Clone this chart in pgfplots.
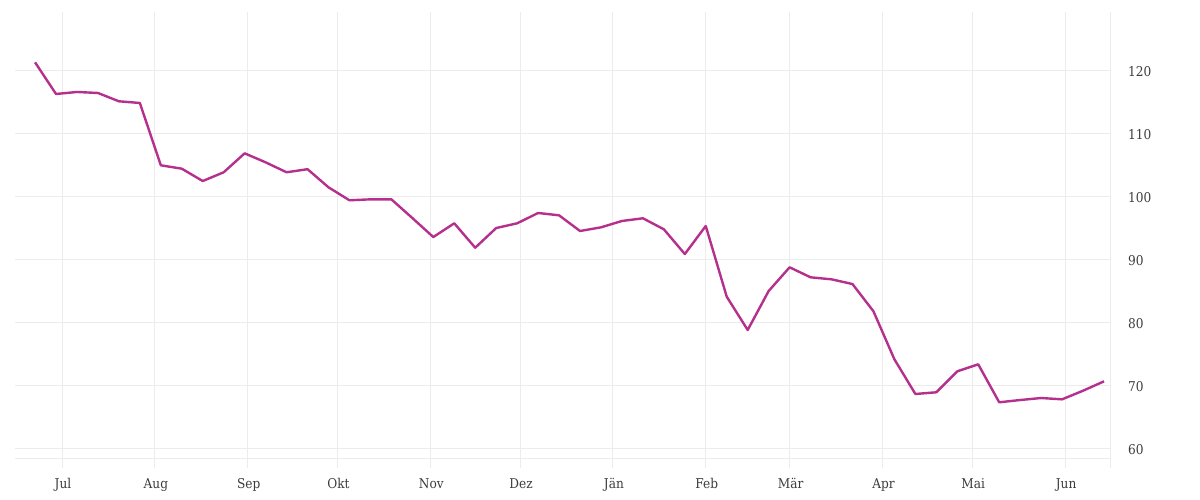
\documentclass[border=0pt]{standalone}
\usepackage{fontspec}
\setmainfont{DejaVu Serif Condensed}
\usepackage{pgfplots}
\pgfplotsset{compat=1.18}
\definecolor{linec}{RGB}{181,48,140}
\definecolor{gridc}{RGB}{236,236,236}
\definecolor{txt}{RGB}{60,60,60}

\begin{document}
\begin{tikzpicture}
\path[use as bounding box] (0,0) rectangle (1200pt,500pt);
\begin{axis}[
    at={(15pt,32pt)}, anchor=south west,
    scale only axis,
    width=1095pt, height=456pt,
    xmin=-15.7, xmax=350,
    ymin=56.87, ymax=129.33,
    axis line style={draw=none},
    major tick length=0pt,
    xtick={0,31,62,92,123,153,184,215,243,274,304,335},
    xticklabels={Jul,Aug,Sep,Okt,Nov,Dez,Jän,Feb,Mär,Apr,Mai,Jun},
    extra x ticks={350},
    extra x tick labels={},
    ytick={60,70,80,90,100,110,120},
    extra y ticks={58.41},
    extra y tick labels={},
    yticklabel pos=right,
    xmajorgrids, ymajorgrids,
    grid style={gridc, line width=1pt},
    extra tick style={grid style={gridc, line width=1pt}},
    /pgf/number format/assume math mode=true,
    ticklabel style={font=\fontsize{13.5}{15}\selectfont, text=txt, inner sep=0pt},
    xticklabel style={anchor=base, xshift=1pt, yshift=-21pt},
    yticklabel style={anchor=west, xshift=18pt, yshift=-1pt},
    clip=false,
]
\addplot[linec, line width=2.4pt, line join=round, no markers] coordinates {
(-9,121.33)(-2,116.30)(5,116.62)(12,116.46)(19,115.14)(26,114.87)
(33,104.97)(40,104.43)(47,102.47)(54,103.86)(61,106.87)(68,105.44)
(75,103.86)(82,104.35)(89,101.47)(96,99.41)(103,99.56)(110,99.56)
(117,96.59)(124,93.57)(131,95.75)(138,91.87)(145,95.00)(152,95.75)
(159,97.39)(166,97.02)(173,94.53)(180,95.11)(187,96.12)(194,96.55)
(201,94.80)(208,90.87)(215,95.32)(222,84.09)(229,78.80)(236,84.99)
(243,88.76)(250,87.17)(257,86.85)(264,86.10)(271,81.77)(278,74.14)
(285,68.63)(292,68.90)(299,72.23)(306,73.34)(313,67.31)(320,67.67)
(327,67.99)(334,67.78)(341,69.15)(348,70.64)
};
\end{axis}
\end{tikzpicture}
\end{document}
